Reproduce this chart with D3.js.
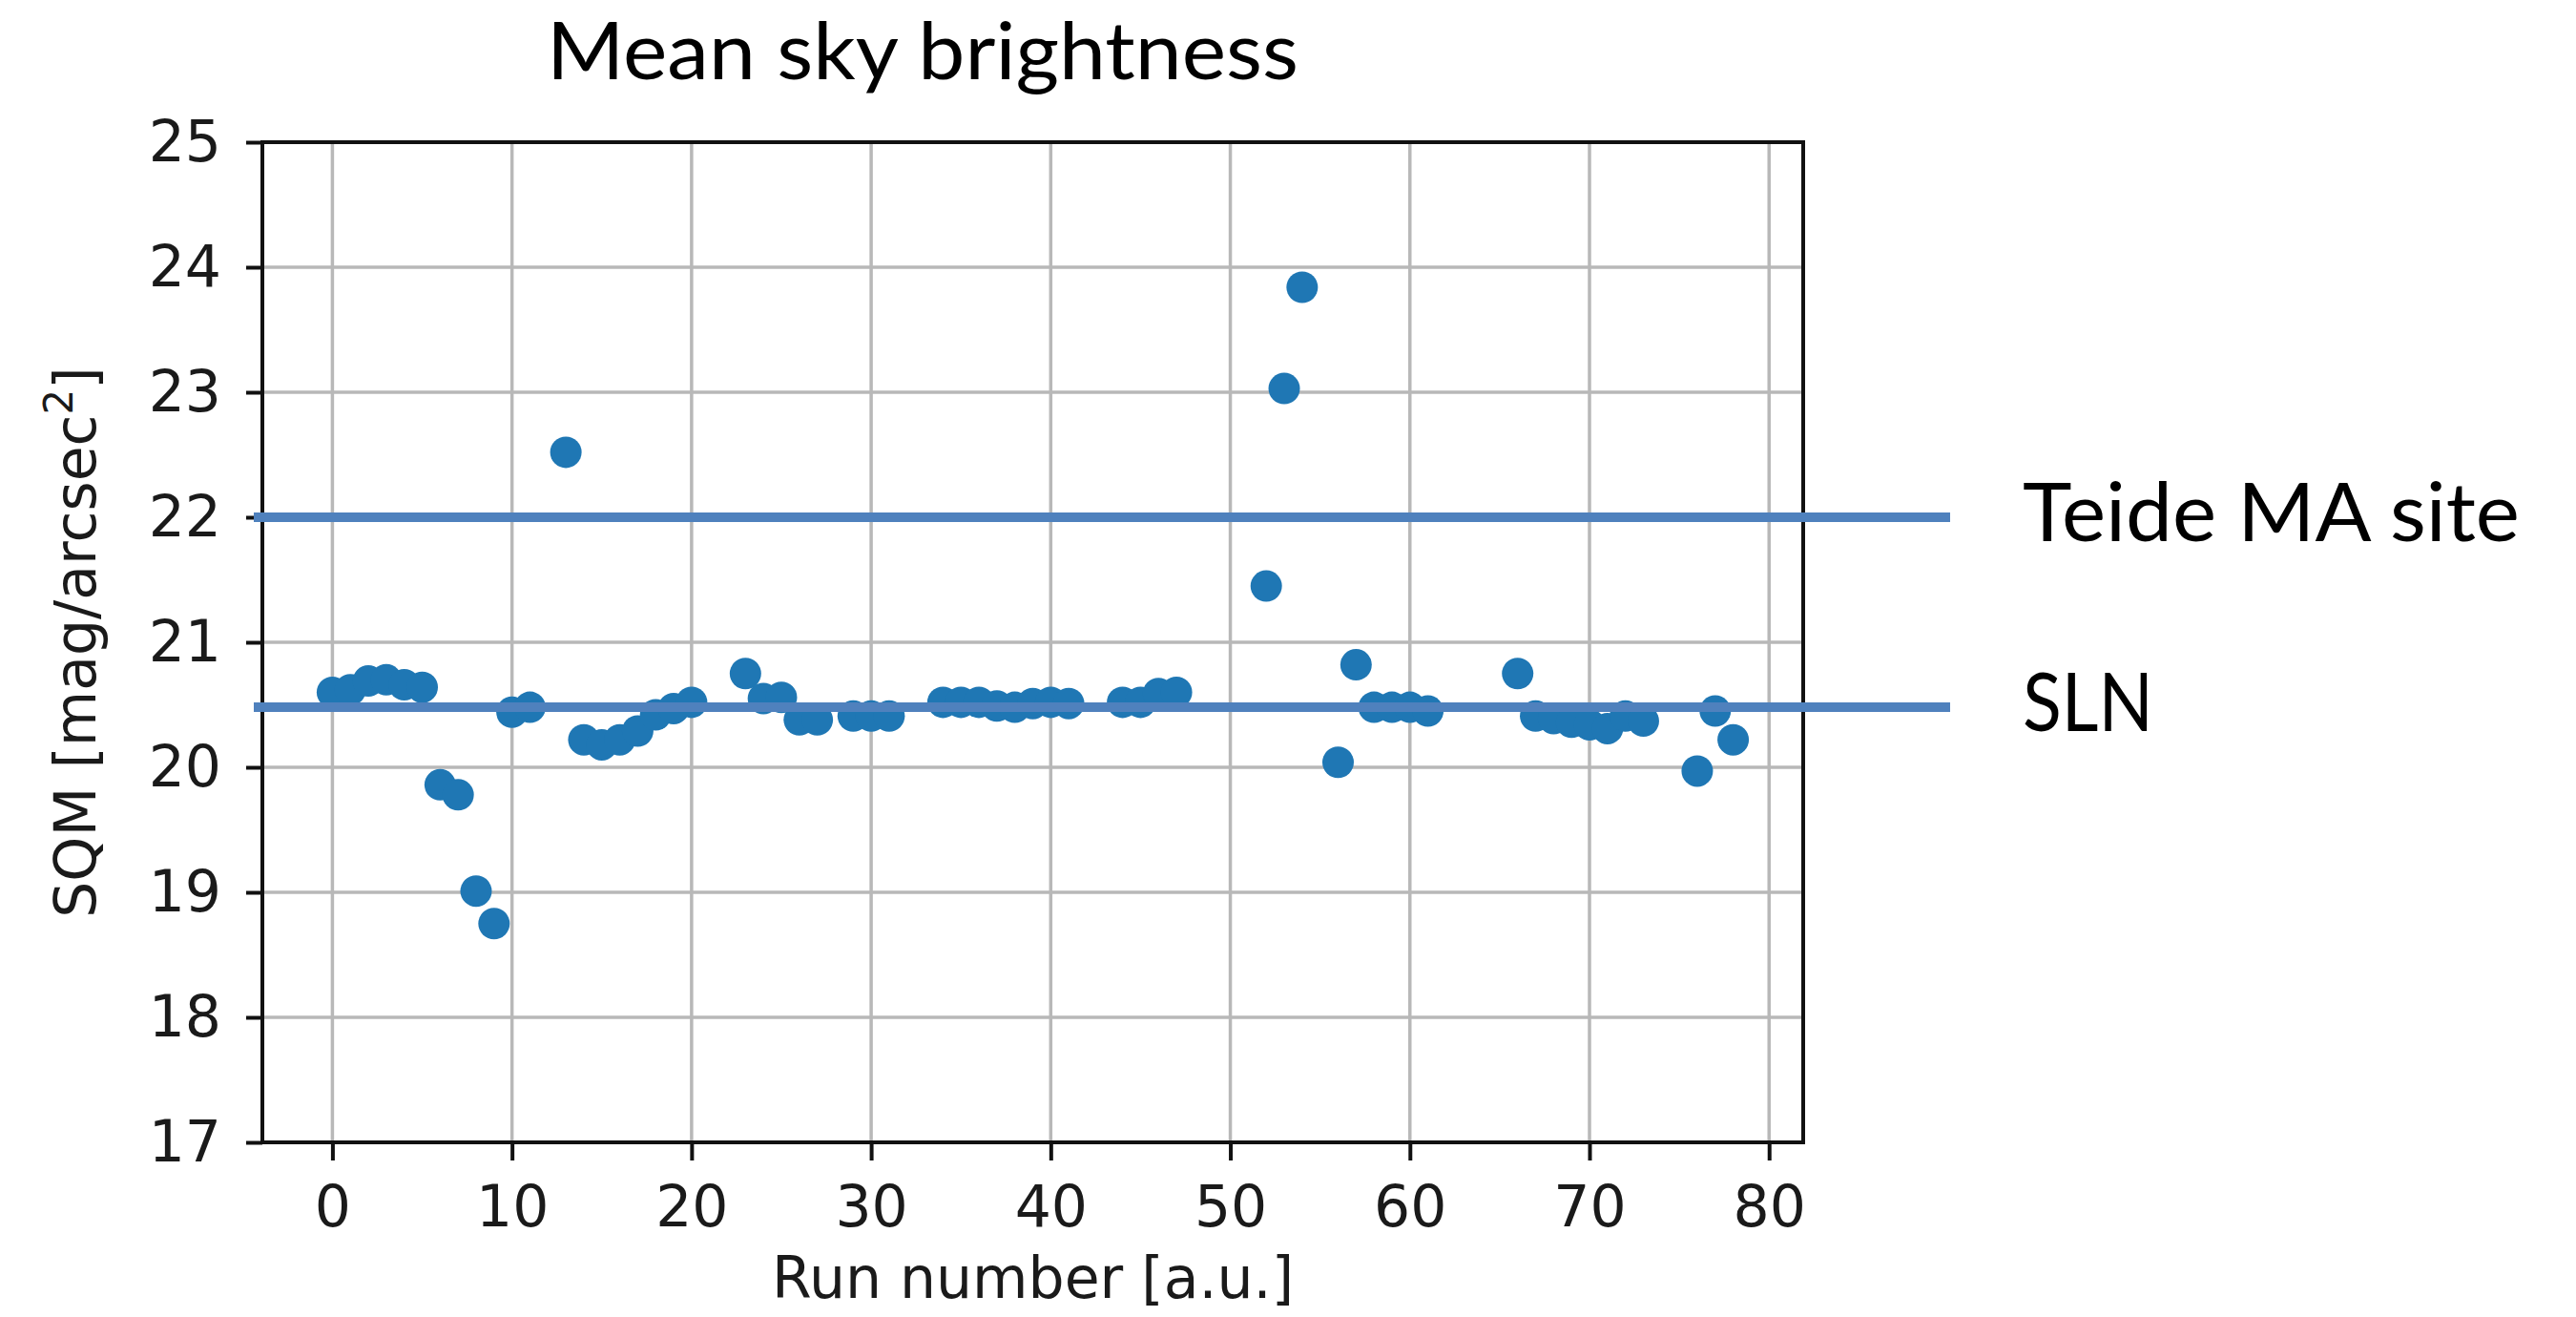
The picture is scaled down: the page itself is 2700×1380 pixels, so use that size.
<!DOCTYPE html>
<html>
<head>
<meta charset="utf-8">
<script src="https://cdn.jsdelivr.net/npm/d3@7"></script>
<style>
  html, body { margin: 0; padding: 0; background: #ffffff; }
  svg { display: block; }
</style>
</head>
<body>
<script>
// Run numbers and their mean SQM sky brightness (mag/arcsec^2)
const runs = [0,1,2,3,4,5,6,7,8,9,10,11,13,14,15,16,17,18,19,20,23,24,25,26,27,29,30,31,
  34,35,36,37,38,39,40,41,44,45,46,47,52,53,54,56,57,58,59,60,61,66,67,68,69,70,71,72,73,76,77,78];
const sqm = [20.60,20.62,20.69,20.70,20.66,20.64,19.86,19.78,19.01,18.75,20.44,20.48,22.52,
  20.22,20.18,20.22,20.29,20.42,20.47,20.52,20.75,20.55,20.56,20.38,20.38,20.41,20.41,20.41,
  20.52,20.52,20.52,20.49,20.48,20.51,20.52,20.51,20.52,20.52,20.59,20.60,21.45,23.03,23.84,
  20.04,20.82,20.48,20.48,20.48,20.45,20.75,20.41,20.39,20.36,20.34,20.31,20.41,20.37,
  19.97,20.45,20.22];

// Reference site brightness levels
const refLevels = [22.0, 20.48];
const refLabels = ["Teide MA site", "SLN"];

// Axis ticks
const xTicks = [0,10,20,30,40,50,60,70,80];
const yTicks = [17,18,19,20,21,22,23,24,25];

const W = 2700, H = 1380;
const plot = { left: 275, right: 1890, top: 149, bottom: 1197 };

const svg = d3.select("body").append("svg")
  .attr("width", W).attr("height", H)
  .attr("viewBox", `0 0 ${W} ${H}`);

svg.append("rect").attr("width", W).attr("height", H).attr("fill", "#ffffff");

// matplotlib-style 5% padding around the run range
const xmin = d3.min(runs), xmax = d3.max(runs), pad = (xmax - xmin) * 0.05;
const x = d3.scaleLinear().domain([xmin - pad, xmax + pad]).range([plot.left, plot.right]);
const y = d3.scaleLinear().domain([17, 25]).range([plot.bottom, plot.top]);

const tickFont = "'DejaVu Sans', sans-serif";
const fs = 60;

// Grid
const grid = svg.append("g").attr("stroke", "#b8b8b8").attr("stroke-width", 3.5);
grid.selectAll("line.gx").data(xTicks).join("line")
  .attr("x1", d => x(d)).attr("x2", d => x(d))
  .attr("y1", plot.top).attr("y2", plot.bottom);
grid.selectAll("line.gy").data(yTicks).join("line")
  .attr("x1", plot.left).attr("x2", plot.right)
  .attr("y1", d => y(d)).attr("y2", d => y(d));

// Scatter points
svg.append("g").selectAll("circle").data(runs.map((r, i) => [r, sqm[i]])).join("circle")
  .attr("cx", d => x(d[0])).attr("cy", d => y(d[1]))
  .attr("r", 16.5).attr("fill", "#1f77b4");

// Axes
const xAxis = svg.append("g").attr("transform", `translate(0,${plot.bottom})`)
  .call(d3.axisBottom(x).tickValues(xTicks).tickSize(19).tickPadding(26).tickFormat(d3.format("d")));
const yAxis = svg.append("g").attr("transform", `translate(${plot.left},0)`)
  .call(d3.axisLeft(y).tickValues(yTicks).tickSize(17).tickPadding(26).tickFormat(d3.format("d")));

[xAxis, yAxis].forEach(g => {
  g.select(".domain").remove();
  g.selectAll(".tick line").attr("stroke", "#111").attr("stroke-width", 4);
  g.selectAll(".tick text").attr("fill", "#1a1a1a")
    .style("font-family", tickFont).style("font-size", fs + "px");
});

// Frame
svg.append("rect")
  .attr("x", plot.left).attr("y", plot.top)
  .attr("width", plot.right - plot.left).attr("height", plot.bottom - plot.top)
  .attr("fill", "none").attr("stroke", "#111").attr("stroke-width", 4);

// Axis labels
svg.append("text")
  .attr("x", (plot.left + plot.right) / 2).attr("y", 1360)
  .attr("text-anchor", "middle").attr("fill", "#1a1a1a")
  .style("font-family", tickFont).style("font-size", fs + "px")
  .text("Run number [a.u.]");

const yl = svg.append("text")
  .attr("transform", `translate(100,${(plot.top + plot.bottom) / 2}) rotate(-90)`)
  .attr("text-anchor", "middle").attr("fill", "#1a1a1a")
  .style("font-family", tickFont).style("font-size", fs + "px");
yl.append("tspan").text("SQM [mag/arcsec");
yl.append("tspan").attr("dy", -24).style("font-size", "42px").text("2");
yl.append("tspan").attr("dy", 24).text("]");

// Reference levels
svg.append("g").selectAll("line").data(refLevels).join("line")
  .attr("x1", 266).attr("x2", 2044)
  .attr("y1", d => y(d)).attr("y2", d => y(d))
  .attr("stroke", "#4f81bd").attr("stroke-width", 10);

const slideFont = "Lato, 'Open Sans', sans-serif";
const refWidths = [521, 137];
svg.append("g").selectAll("text").data(refLevels).join("text")
  .attr("x", 2120).attr("y", d => y(d) + 25)
  .attr("fill", "#000")
  .attr("textLength", (d, i) => refWidths[i])
  .attr("lengthAdjust", "spacingAndGlyphs")
  .style("font-family", slideFont).style("font-size", "86px")
  .text((d, i) => refLabels[i]);

// Title
svg.append("text")
  .attr("x", 573).attr("y", 83)
  .attr("fill", "#000")
  .attr("textLength", 788).attr("lengthAdjust", "spacingAndGlyphs")
  .style("font-family", slideFont).style("font-size", "84px")
  .text("Mean sky brightness");
</script>
</body>
</html>
